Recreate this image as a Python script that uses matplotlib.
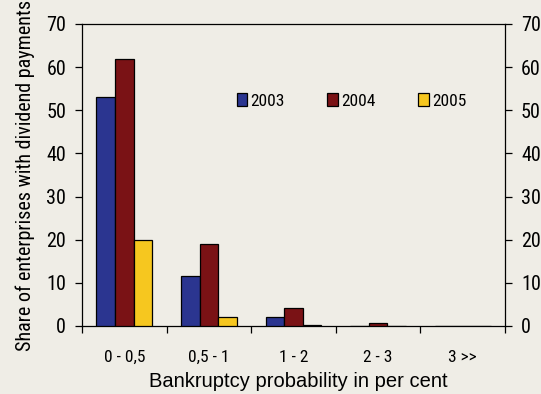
import numpy as np
import matplotlib
matplotlib.use("Agg")
import matplotlib.pyplot as plt

categories = ["0 - 0,5", "0,5 - 1", "1 - 2", "2 - 3", "3 >>"]
years = ["2003", "2004", "2005"]
share_2003 = [53, 11.5, 2.2, 0.0, 0.0]
share_2004 = [62, 19, 4.1, 0.6, 0.0]
share_2005 = [20, 2.0, 0.3, 0.0, 0.0]

colors = ["#2B3590", "#7A1215", "#F6C71F"]
bg = "#EFEDE6"
narrow = ["Roboto Condensed", "DejaVu Sans"]

fig = plt.figure(figsize=(5.41, 3.94), dpi=100, facecolor=bg)
ax = fig.add_axes([0.1516, 0.1726, 0.7819, 0.7665], facecolor=bg)

x = np.arange(len(categories))
w = 0.22
for i, (vals, c, yr) in enumerate(zip([share_2003, share_2004, share_2005], colors, years)):
    ax.bar(x + (i - 1) * w, vals, width=w, color=c, edgecolor="black",
           linewidth=0.9, label=yr, zorder=3)

ax.set_xlim(-0.5, len(categories) - 0.5)
ax.set_ylim(0, 70)
ax.set_yticks(range(0, 71, 10))

# category boundary ticks, labels in between
ax.set_xticks(np.arange(len(categories) + 1) - 0.5)
ax.set_xticklabels([])
ax.set_xticks(x, minor=True)
ax.set_xticklabels(categories, minor=True, family=narrow, fontsize=12.5)
ax.tick_params(axis="x", which="major", direction="out", length=5, width=0.9)
ax.tick_params(axis="x", which="minor", length=0, pad=17)

ax.tick_params(axis="y", direction="out", length=5, width=0.9, pad=6.5,
               right=True, labelright=True, labelsize=14.5)
for t in ax.yaxis.get_major_ticks():
    t.label1.set_family(narrow)
    t.label2.set_family(narrow)

for s in ax.spines.values():
    s.set_linewidth(0.9)

ax.set_xlabel("Bankruptcy probability in per cent", fontsize=14.5,
              family="Liberation Sans", labelpad=5)
ax.xaxis.label.set_x(0.512)
ax.set_ylabel("Share of enterprises with dividend payments", fontsize=14.5,
              family=narrow, labelpad=8)

leg = ax.legend(loc="center", bbox_to_anchor=(0.637, 0.745), ncol=3,
                frameon=False, handlelength=0.6, handleheight=0.7,
                handletextpad=0.2, columnspacing=2.45,
                prop={"family": narrow, "size": 12.5})

fig.savefig("out.png", dpi=100, facecolor=bg)
